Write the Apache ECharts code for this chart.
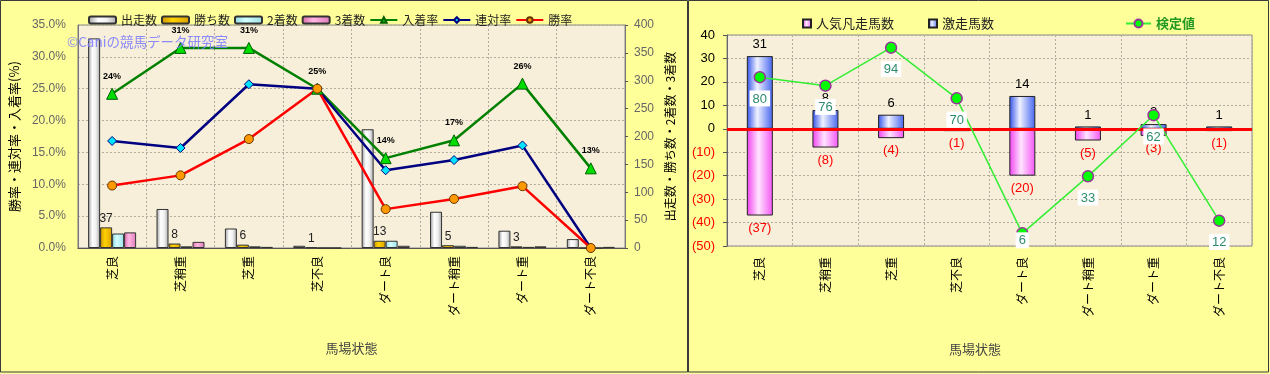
<!DOCTYPE html>
<html><head><meta charset="utf-8">
<script src="https://cdn.jsdelivr.net/npm/echarts@6/dist/echarts.min.js"></script>
<style>
html,body{margin:0;padding:0;background:#FFFF99;}
#c1{position:absolute;left:0;top:0;width:688px;height:374px;}
#c2{position:absolute;left:688px;top:0;width:582px;height:374px;}
</style></head><body>
<div id="c1"></div><div id="c2"></div>
<script>
// ---- data ----
const categories = ['芝良','芝稍重','芝重','芝不良','ダート良','ダート稍重','ダート重','ダート不良'];
// left chart: counts
const runners = [376, 70, 35, 4, 213, 65, 31, 16];
const wins    = [37, 8, 6, 1, 13, 5, 3, 0];
const seconds = [26, 3, 3, 0, 13, 4, 2, 0];
const thirds  = [28, 11, 2, 0, 4, 2, 3, 2];
// left chart: rates (%)
const placeRate    = [24.2, 31.4, 31.4, 25.0, 14.1, 16.9, 25.8, 12.5];
const quinellaRate = [16.8, 15.7, 25.7, 25.0, 12.2, 13.8, 16.1, 0];
const winRate      = [9.8, 11.4, 17.1, 25.0, 6.1, 7.7, 9.7, 0];
const rateAxis  = [0, 35, 5];
const countAxis = [0, 400, 50];
// right chart
const popularFail = [-37, -8, -4, -1, -20, -5, -3, -1];
const longshotRun = [31, 8, 6, 0, 14, 1, 2, 1];
const testValue   = [80, 76, 94, 70, 6, 33, 62, 12];
const diffAxis = [-50, 40, 10];
const testAxis = [0, 100];

// ---- helpers ----
const JP = '"Noto Sans CJK JP", "Noto Sans", sans-serif';
function grad(stops){
  return new echarts.graphic.LinearGradient(0,0,1,0, stops.map(s=>({offset:s[0],color:s[1]})));
}
const gridLine = {show:true, lineStyle:{color:'#B3AC9C', type:[2,2], width:1}};

// ---- left chart ----
const c1 = echarts.init(document.getElementById('c1'));
const barCommon = {type:'bar', yAxisIndex:1, barWidth:12, barGap:'0%'};
const opt1 = {
  backgroundColor:'#FFFF99',
  animation:false,
  textStyle:{fontFamily:JP},
  graphic:[
    {type:'rect', shape:{x:0.5,y:0.5,width:687,height:371.5}, style:{fill:'none',stroke:'#3a3a3a',lineWidth:1}, z:100, silent:true},
    {type:'text', x:67, y:35, style:{text:'©Caniの競馬データ研究室', fill:'rgba(120,120,255,0.85)', font:'13.5px '+JP}, z:100, silent:true}
  ],
  legend:{left:83, top:9, itemWidth:27, itemHeight:7, itemGap:4,
    textStyle:{fontSize:12, color:'#222', fontFamily:JP},
    data:['出走数','勝ち数','2着数','3着数','入着率','連対率','勝率']},
  grid:{left:67, top:25, width:558, height:223, show:true, backgroundColor:'#F7EFD9', borderColor:'#8a8a8a', borderWidth:1},
  xAxis:{type:'category', data:categories,
    axisLine:{lineStyle:{color:'#555'}}, axisTick:{show:false},
    axisLabel:{rotate:90, fontSize:12, color:'#000', margin:8, interval:0, fontFamily:JP},
    splitLine:gridLine,
    name:'馬場状態', nameLocation:'middle', nameGap:94, nameTextStyle:{fontSize:13, color:'#444', fontFamily:JP}},
  yAxis:[
    {type:'value', min:rateAxis[0], max:rateAxis[1], interval:rateAxis[2], position:'left',
     axisLine:{show:true, lineStyle:{color:'#777'}}, axisTick:{show:false},
     axisLabel:{formatter:v=>v.toFixed(1)+'%', color:'#666', fontSize:12, margin:12, fontFamily:'Arial'},
     splitLine:gridLine,
     name:'勝率・連対率・入着率(%)', nameLocation:'middle', nameRotate:90, nameGap:44,
     nameTextStyle:{fontSize:13, color:'#000', fontFamily:JP}},
    {type:'value', min:countAxis[0], max:countAxis[1], interval:countAxis[2], position:'right',
     axisLine:{show:true, lineStyle:{color:'#777'}}, axisTick:{show:true, length:3, lineStyle:{color:'#555'}},
     axisLabel:{color:'#666', fontSize:12, margin:9, fontFamily:'Arial'},
     splitLine:{show:false},
     name:'出走数・勝ち数・2着数・3着数', nameLocation:'middle', nameRotate:90, nameGap:38,
     nameTextStyle:{fontSize:12, color:'#000', fontFamily:JP}}
  ],
  series:[
    Object.assign({name:'出走数', data:runners,
      itemStyle:{color:grad([[0,'#9a9a9a'],[0.35,'#ffffff'],[0.65,'#f0f0f0'],[1,'#a8a8a8']]), borderColor:'#333', borderWidth:1}}, barCommon),
    Object.assign({name:'勝ち数', data:wins,
      itemStyle:{color:grad([[0,'#C89200'],[0.4,'#FFD200'],[1,'#D9A000']]), borderColor:'#333', borderWidth:1},
      label:{show:true, position:'top', distance:3, fontSize:12, color:'#222', fontFamily:'Arial',
        formatter:p=>p.value?String(p.value):''}}, barCommon),
    Object.assign({name:'2着数', data:seconds,
      itemStyle:{color:grad([[0,'#8CD8E0'],[0.4,'#D4FFFF'],[1,'#9ADFE6']]), borderColor:'#333', borderWidth:1}}, barCommon),
    Object.assign({name:'3着数', data:thirds,
      itemStyle:{color:grad([[0,'#D868A8'],[0.4,'#FFB8E4'],[1,'#E07AB8']]), borderColor:'#333', borderWidth:1}}, barCommon),
    {name:'入着率', type:'line', yAxisIndex:0, data:placeRate, symbol:'triangle', symbolSize:11,
      lineStyle:{color:'#008000', width:2.5}, itemStyle:{color:'#00DD00', borderColor:'#006000', borderWidth:1},
      label:{show:true, position:'top', distance:7, fontSize:9, fontWeight:'bold', color:'#000', fontFamily:'Arial',
        formatter:p=>Math.round(p.value)+'%'}},
    {name:'連対率', type:'line', yAxisIndex:0, data:quinellaRate, symbol:'diamond', symbolSize:9,
      lineStyle:{color:'#000080', width:2.5}, itemStyle:{color:'#00E5FF', borderColor:'#000080', borderWidth:1}},
    {name:'勝率', type:'line', yAxisIndex:0, data:winRate, symbol:'circle', symbolSize:9,
      lineStyle:{color:'#FF0000', width:2.5}, itemStyle:{color:'#FF9900', borderColor:'#663300', borderWidth:1}}
  ]
};
c1.setOption(opt1);

// ---- right chart ----
const c2 = echarts.init(document.getElementById('c2'));
const opt2 = {
  backgroundColor:'#FFFF99',
  animation:false,
  textStyle:{fontFamily:JP},
  graphic:[
    {type:'rect', shape:{x:0.5,y:0.5,width:580,height:371.5}, style:{fill:'none',stroke:'#3a3a3a',lineWidth:1}, z:100, silent:true},
    {type:'text', x:287, y:349, style:{text:'馬場状態', textAlign:'center', textVerticalAlign:'middle', fill:'#444', font:'13px '+JP}, silent:true}
  ],
  legend:[
    {left:109, top:12, icon:'rect', itemWidth:8, itemHeight:8, textStyle:{fontSize:13,color:'#222',fontFamily:JP}, data:['人気凡走馬数']},
    {left:235, top:12, icon:'rect', itemWidth:8, itemHeight:8, textStyle:{fontSize:13,color:'#222',fontFamily:JP}, data:['激走馬数']},
    {left:432, top:12, itemWidth:25, itemHeight:10, textStyle:{fontSize:13,color:'#229922',fontWeight:'bold',fontFamily:JP}, data:['検定値']}
  ],
  grid:{left:39, top:35, width:525, height:211, show:true, backgroundColor:'#F7EFD9', borderColor:'#8a8a8a', borderWidth:1},
  xAxis:{type:'category', data:categories,
    axisLine:{lineStyle:{color:'#555'}}, axisTick:{show:false},
    axisLabel:{rotate:90, fontSize:12, color:'#000', margin:11, interval:0, fontFamily:JP},
    splitLine:gridLine},
  yAxis:[
    {type:'value', min:diffAxis[0], max:diffAxis[1], interval:diffAxis[2],
     axisLine:{show:true, lineStyle:{color:'#666'}}, axisTick:{show:true, length:4, lineStyle:{color:'#555'}},
     axisLabel:{fontSize:13, margin:12, fontFamily:'Arial',
       formatter:v=>v<0?'('+(-v)+')':String(v),
       color:v=>Number(v)<0?'#FF0000':'#000'},
     splitLine:gridLine},
    {type:'value', min:testAxis[0], max:testAxis[1], show:false, splitLine:{show:false}}
  ],
  series:[
    {name:'人気凡走馬数', type:'bar', data:popularFail, barWidth:26, barGap:'-100%',
      itemStyle:{color:grad([[0,'#F040F0'],[0.45,'#FFE4FF'],[1,'#F455F4']]), borderColor:'#222', borderWidth:1},
      label:{show:true, position:'bottom', distance:6, fontSize:13, color:'#FF0000', fontFamily:'Arial',
        formatter:p=>'('+(-p.value)+')'}},
    {name:'激走馬数', type:'bar', data:longshotRun, barWidth:26, barGap:'-100%',
      itemStyle:{color:grad([[0,'#3050E8'],[0.4,'#F0F2FF'],[1,'#4565EE']]), borderColor:'#222', borderWidth:1},
      label:{show:true, position:'top', distance:5, fontSize:13, color:'#000', fontFamily:'Arial',
        formatter:p=>p.value?String(p.value):''},
      markLine:{silent:true, symbol:'none', z:5, label:{show:false},
        lineStyle:{color:'#FF0000', width:3, type:'solid'}, data:[{yAxis:0}]}},
    {name:'検定値', type:'line', yAxisIndex:1, z:6,
      data:testValue.map(v=>v<10?{value:v, label:{position:'inside', offset:[0,7]}}:v),
      symbol:'circle', symbolSize:11,
      lineStyle:{color:'#33EE33', width:1.5}, itemStyle:{color:'#00FF00', borderColor:'#993399', borderWidth:1.5},
      label:{show:true, position:'bottom', distance:7, backgroundColor:'#fff', padding:[2,3,1,3],
        color:'#2E8B6E', fontSize:13, fontFamily:'Arial'}}
  ]
};
c2.setOption(opt2);
</script>
</body></html>
